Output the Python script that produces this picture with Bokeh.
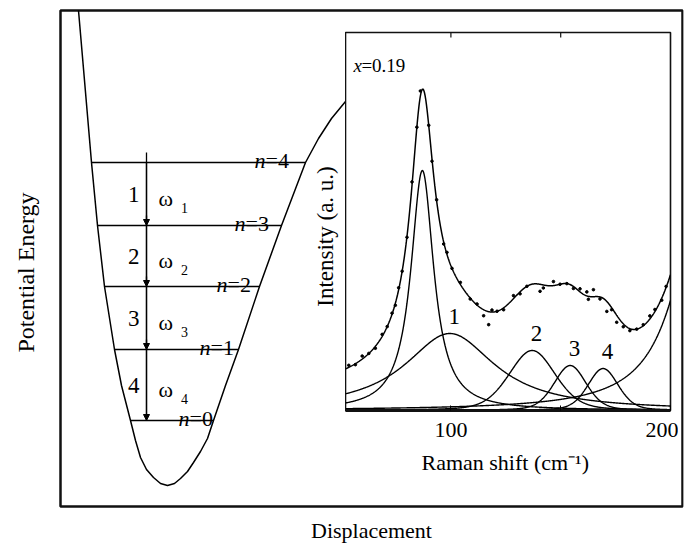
import numpy as np
from bokeh.plotting import figure
from bokeh.layouts import column
from bokeh.models import ColumnDataSource, Range1d, Arrow, NormalHead, FixedTicker
from bokeh.core.properties import value
from bokeh.embed import file_html
from bokeh.resources import INLINE

SERIF = "Liberation Serif"

# ---------------- potential well (arbitrary displacement / energy units) ----------------
box_disp = [-1.07, 5.15]
box_energy = [-0.21, 4.75]
well_disp = [-0.89, -0.83, -0.76, -0.70, -0.63, -0.53, -0.46, -0.37, -0.32, -0.27,
             -0.21, -0.14, -0.07, 0.00, 0.07, 0.13, 0.20, 0.26, 0.33, 0.40, 0.46, 0.58,
             0.71, 0.92, 1.14, 1.38, 1.51, 1.64, 1.78, 1.93]
well_energy = [4.75, 4.05, 3.23, 2.60, 1.99, 1.36, 1.00, 0.65, 0.45, 0.28,
               0.16, 0.08, 0.02, 0.00, 0.02, 0.07, 0.14, 0.23, 0.34, 0.47, 0.65, 1.00,
               1.36, 1.99, 2.60, 3.23, 3.47, 3.67, 3.84, 4.00]
level_n = [4, 3, 2, 1, 0]
level_energy = [3.23, 2.60, 1.99, 1.36, 0.65]
transition_names = ["1", "2", "3", "4"]

# ---------------- Raman spectrum, x = 0.19 ----------------
shift_limits = [52, 200]
shift_ticks = [100, 200]
shift_minor_ticks = [150]
comp_center = [87.0, 99.5, 137.0, 154.3, 169.3, 215.0]
comp_hwhm = [6.3, 25.0, 12.5, 8.7, 8.2, 15.0]
comp_height = [2.40, 0.77, 0.60, 0.45, 0.42, 2.20]
comp_lorentz_frac = [1.0, 1.0, 0.3, 0.3, 0.3, 1.0]
comp_label = ["", "1", "2", "3", "4", ""]
background_level = 0.15
background_hump = [158.0, 25.0, 0.15]   # centre, sigma, height

data_shift = [53.5, 56.5, 59.6, 62.6, 65.6, 68.7, 71.0, 73.2, 74.7, 76.2, 77.8, 80.0,
              82.3, 84.5, 86.1, 89.9, 91.4, 93.5, 96.7, 98.2, 100.5, 104.3, 108.8, 111.9,
              114.9, 117.2, 118.7, 121.0, 124.0, 128.5, 131.5, 134.6, 140.6, 142.1, 146.7,
              149.7, 152.8, 155.8, 158.8, 161.9, 162.6, 164.9, 167.9, 171.0, 173.2, 175.5,
              178.5, 181.5, 184.6, 187.6, 190.6, 192.9, 196.0, 198.0]
data_residual = [0.02, -0.01, 0.03, 0.00, -0.02, 0.02, 0.00, 0.01, -0.02, 0.02, 0.00, -0.01,
                 0.03, 0.00, 0.05, 0.00, -0.02, 0.01, -0.02, 0.02, 0.00, 0.02, -0.01, 0.01,
                 -0.06, -0.13, 0.02, 0.00, -0.02, 0.03, -0.02, 0.00, -0.07, -0.03, 0.04,
                 0.00, 0.00, -0.02, 0.03, 0.04, -0.03, 0.07, -0.02, -0.10, -0.02, -0.07,
                 -0.03, -0.02, 0.00, 0.01, 0.03, 0.02, -0.02, 0.01]


def profile(x, c, w, h, eta):
    """Pseudo-Voigt band: eta * Lorentzian + (1 - eta) * Gaussian, common HWHM w."""
    d2 = (np.asarray(x, dtype=float) - c) ** 2
    lor = w ** 2 / (w ** 2 + d2)
    gau = np.exp(-np.log(2) * d2 / w ** 2)
    return h * (eta * lor + (1 - eta) * gau)


def fit_total(x):
    x = np.asarray(x, dtype=float)
    y = background_level + background_hump[2] * np.exp(-0.5 * ((x - background_hump[0]) / background_hump[1]) ** 2)
    for c, w, h, eta in zip(comp_center, comp_hwhm, comp_height, comp_lorentz_frac):
        y = y + profile(x, c, w, h, eta)
    return y


# side borders are shared by both plots of the column
BORDER_RIGHT = 8

# ======================= outer diagram (whole canvas) =======================
p1 = figure(width=691, height=546, output_backend="svg", toolbar_location=None,
            x_axis_type=None, y_axis_type=None,
            x_range=Range1d(-1.67, 5.16), y_range=Range1d(-0.61, 4.85),
            min_border_left=0, min_border_right=BORDER_RIGHT, min_border_top=0, min_border_bottom=0)
p1.outline_line_color = None
p1.background_fill_color = "white"
p1.border_fill_color = "white"

p1.quad(left=[box_disp[0]], right=[box_disp[1]], bottom=[box_energy[0]], top=[box_energy[1]],
        fill_color=None, line_color="#111111", line_width=2.5)

p1.line(well_disp, well_energy, line_color="black", line_width=1.5)

imin = int(np.argmin(well_energy))
left_e = np.array(well_energy[:imin + 1])[::-1]
left_d = np.array(well_disp[:imin + 1])[::-1]
right_e = np.array(well_energy[imin:])
right_d = np.array(well_disp[imin:])
lev = np.array(level_energy)
lev_left = np.interp(lev, left_e, left_d)
lev_right = np.interp(lev, right_e, right_d)

p1.segment(x0=lev_left, y0=lev, x1=lev_right, y1=lev, line_color="black", line_width=1.5)

# cascade of transitions between neighbouring levels
arrow_x = -0.21
p1.segment(x0=[arrow_x], y0=[lev[0]], x1=[arrow_x], y1=[lev[-1]], line_color="black", line_width=1.3)
for k in range(len(lev) - 1):
    p1.add_layout(Arrow(end=NormalHead(size=6, fill_color="black", line_color="black"),
                        x_start=arrow_x, y_start=lev[k] + 0.1, x_end=arrow_x, y_end=lev[k + 1],
                        line_color="black", line_width=1.3))

mids = (lev[:-1] + lev[1:]) / 2
p1.text(x=[arrow_x - 0.07] * 4, y=mids, text=transition_names, text_font=value(SERIF),
        text_font_size=value("23px"), text_align="right", text_baseline="middle", text_color="black")
p1.text(x=[-0.09] * 4, y=mids - 0.045, text=["\u03c9"] * 4, text_font=value(SERIF),
        text_font_size=value("22px"), text_align="left", text_baseline="middle", text_color="black")
p1.text(x=[0.135] * 4, y=mids - 0.135, text=transition_names, text_font=value(SERIF),
        text_font_size=value("14px"), text_align="left", text_baseline="middle", text_color="black")

# "n=k" level labels
anchor = lev_right - 0.24 - 0.04 * np.array(level_n)
p1.text(x=anchor, y=lev + 0.02, text=["n"] * 5, text_font=value(SERIF), text_font_style="italic",
        text_font_size=value("22px"), text_align="right", text_baseline="alphabetic", text_color="black")
p1.text(x=anchor, y=lev + 0.02, text=["=%d" % n for n in level_n], text_font=value(SERIF),
        text_font_size=value("22px"), text_align="left", text_baseline="alphabetic", text_color="black")

# axis titles of the diagram
p1.text(x=[(box_disp[0] + box_disp[1]) / 2], y=[box_energy[0] - 0.24], text=["Displacement"],
        text_font=value(SERIF), text_font_size=value("22px"), text_align="center",
        text_baseline="middle", text_color="black")
p1.text(x=[box_disp[0] - 0.35], y=[2.13], text=["Potential Energy"], angle=np.pi / 2,
        text_font=value(SERIF), text_font_size=value("24px"), text_align="center",
        text_baseline="middle", text_color="black")
# ordinate title of the inset, just left of its frame
p1.text(x=[1.58], y=[2.49], text=["Intensity (a. u.)"], angle=np.pi / 2,
        text_font=value(SERIF), text_font_size=value("23px"), text_align="center",
        text_baseline="middle", text_color="black")

# ======================= Raman inset =======================
p2 = figure(width=325 + BORDER_RIGHT, height=452, output_backend="svg", toolbar_location=None,
            y_axis_type=None,
            x_range=Range1d(shift_limits[0], shift_limits[1]), y_range=Range1d(0, 3.78),
            min_border_left=0, min_border_right=BORDER_RIGHT, min_border_top=4, min_border_bottom=70)
p2.background_fill_color = "white"
p2.border_fill_color = None
p2.outline_line_color = "#111111"
p2.outline_line_width = 1.6
p2.xgrid.visible = False

xs = np.linspace(shift_limits[0], shift_limits[1], 700)
for c, w, h, eta in zip(comp_center, comp_hwhm, comp_height, comp_lorentz_frac):
    p2.line(xs, profile(xs, c, w, h, eta), line_color="black", line_width=1.4)
p2.line(xs, fit_total(xs), line_color="black", line_width=1.5)

dots = ColumnDataSource(dict(x=data_shift, y=fit_total(data_shift) + np.array(data_residual)))
p2.scatter("x", "y", source=dots, size=2.6, color="black")

lab = [i for i, t in enumerate(comp_label) if t]
p2.text(x=[comp_center[i] + 2 for i in lab], y=[comp_height[i] + 0.17 for i in lab],
        text=[comp_label[i] for i in lab], text_font=value(SERIF), text_font_size=value("23px"),
        text_align="center", text_baseline="middle", text_color="black")

p2.text(x=[shift_limits[0] + 3.6], y=[3.45], text=["x"], text_font=value(SERIF), text_font_style="italic",
        text_font_size=value("19px"), text_align="left", text_baseline="middle", text_color="black")
p2.text(x=[shift_limits[0] + 3.6], y=[3.45], x_offset=8, text=["=0.19"], text_font=value(SERIF),
        text_font_size=value("19px"), text_align="left", text_baseline="middle", text_color="black")

ax = p2.xaxis[0]
ax.ticker = FixedTicker(ticks=shift_ticks, minor_ticks=shift_minor_ticks)
ax.axis_line_width = 3
ax.axis_line_color = "#111111"
ax.major_tick_in = 5
ax.major_tick_out = 0
ax.minor_tick_in = 5
ax.minor_tick_out = 0
ax.major_label_standoff = 12
ax.major_label_text_font = SERIF
ax.major_label_text_font_size = "22px"
ax.major_label_text_color = "black"
ax.axis_label = "Raman shift  (cm\u207b\u00b9)"
ax.axis_label_text_font = SERIF
ax.axis_label_text_font_size = "22px"
ax.axis_label_text_font_style = "normal"
ax.axis_label_text_color = "black"
ax.axis_label_standoff = 10

# short inward tick marks mirrored along the top edge of the inset
top_ticks = [t for t in shift_ticks + shift_minor_ticks if t < shift_limits[1]]
ytop = p2.y_range.end
p2.segment(x0=top_ticks, y0=[ytop] * len(top_ticks), x1=top_ticks, y1=[ytop - 0.05] * len(top_ticks),
           line_color="#111111", line_width=1.2)

p2.margin = (-518, 0, 0, 345)

layout = column(p1, p2)
open("out.html", "w").write(file_html(layout, INLINE))
